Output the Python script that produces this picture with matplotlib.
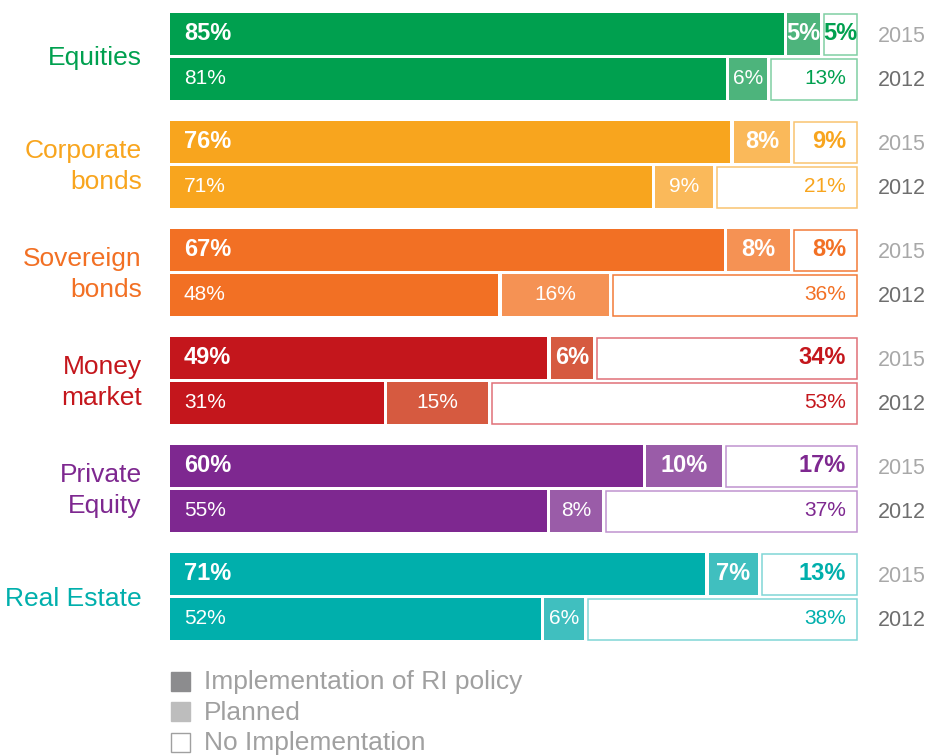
import numpy as np
import matplotlib.pyplot as plt

# data
categories = ["Equities", "Corporate\nbonds", "Sovereign\nbonds", "Money\nmarket", "Private\nEquity", "Real Estate"]
years = ["2015", "2012"]
implemented_2015 = [85, 76, 67, 49, 60, 71]
planned_2015 = [5, 8, 8, 6, 10, 7]
none_2015 = [5, 9, 8, 34, 17, 13]
implemented_2012 = [81, 71, 48, 31, 55, 52]
planned_2012 = [6, 9, 16, 15, 8, 6]
none_2012 = [13, 21, 36, 53, 37, 38]
legend_labels = ["Implementation of RI policy", "Planned", "No Implementation"]

main_colors = ["#00A04F", "#F8A51E", "#F27024", "#C4161C", "#7E2890", "#00AFAC"]
planned_colors = ["#4DB47C", "#FAB95A", "#F59254", "#D65A40", "#9A5CA8", "#40BFBF"]
outline_colors = ["#80CFA3", "#F9C470", "#F27A38", "#E07078", "#C093D0", "#80D6D6"]

plt.rcParams['font.family'] = ['Liberation Sans', 'DejaVu Sans']

W, H = 929, 756
fig = plt.figure(figsize=(W / 100, H / 100), dpi=100)
x0, x1 = 170, 858
ax = fig.add_axes([x0 / W, 0, (x1 - x0) / W, 1])
ax.set_xlim(0, 100)
ax.set_ylim(H, 0)
ax.axis("off")

px = 100 / (x1 - x0)  # data units per pixel along x
gap = 3.5 * px
bar_h = 42
group_pitch = 108
first_y = 34
row_pitch = 45


def draw_row(y, vals, i, bold):
    total = sum(vals)
    bounds = np.concatenate([[0], np.cumsum(vals) / total * 100])
    fs = 17 if bold else 15
    fw = "bold" if bold else "normal"
    for k in range(3):
        left = bounds[k] + (gap / 2 if k > 0 else 0)
        right = bounds[k + 1] - (gap / 2 if k < 2 else 0)
        w = right - left
        label = f"{vals[k]}%"
        if k == 0:
            ax.barh(y, w, left=left, height=bar_h, color=main_colors[i], linewidth=0)
            ax.text(left + 14 * px, y, label, color="white", fontsize=fs, fontweight=fw,
                    ha="left", va="center")
        elif k == 1:
            ax.barh(y, w, left=left, height=bar_h, color=planned_colors[i], linewidth=0)
            ax.text(left + w / 2, y, label, color="white", fontsize=fs, fontweight=fw,
                    ha="center", va="center")
        else:
            ax.barh(y, w - 0.15, left=left + 0.075, height=bar_h - 1, color="white",
                    edgecolor=outline_colors[i], linewidth=1.1)
            if w < 8:
                ax.text(left + w / 2, y, label, color=main_colors[i], fontsize=fs,
                        fontweight=fw, ha="center", va="center")
            else:
                ax.text(right - 12 * px, y, label, color=main_colors[i], fontsize=fs,
                        fontweight=fw, ha="right", va="center")


for i, cat in enumerate(categories):
    y15 = first_y + i * group_pitch
    y12 = y15 + row_pitch
    draw_row(y15, [implemented_2015[i], planned_2015[i], none_2015[i]], i, True)
    draw_row(y12, [implemented_2012[i], planned_2012[i], none_2012[i]], i, False)
    ax.text(-4.1, (y15 + y12) / 2 + 2, cat, color=main_colors[i], fontsize=19,
            ha="right", va="center", multialignment="right", linespacing=1.42)
    ax.text(102.9, y15 + 2, years[0], color="#A8A8A8", fontsize=15.5, ha="left", va="center")
    ax.text(102.9, y12 + 2, years[1], color="#6E6E6E", fontsize=15.5, ha="left", va="center")

# legend
leg_face = ["#8C8C8E", "#BDBDBD", "white"]
leg_edge = ["#8C8C8E", "#BDBDBD", "#A0A0A0"]
for j, lab in enumerate(legend_labels):
    ly = 681 + j * 30.5
    ax.barh(ly, 19 * px, left=0.15, height=19, color=leg_face[j], edgecolor=leg_edge[j],
            linewidth=1)
    ax.text(34 * px, ly + 1, lab, color="#A0A0A0", fontsize=19, ha="left", va="center")

fig.savefig("out.png", dpi=100)
